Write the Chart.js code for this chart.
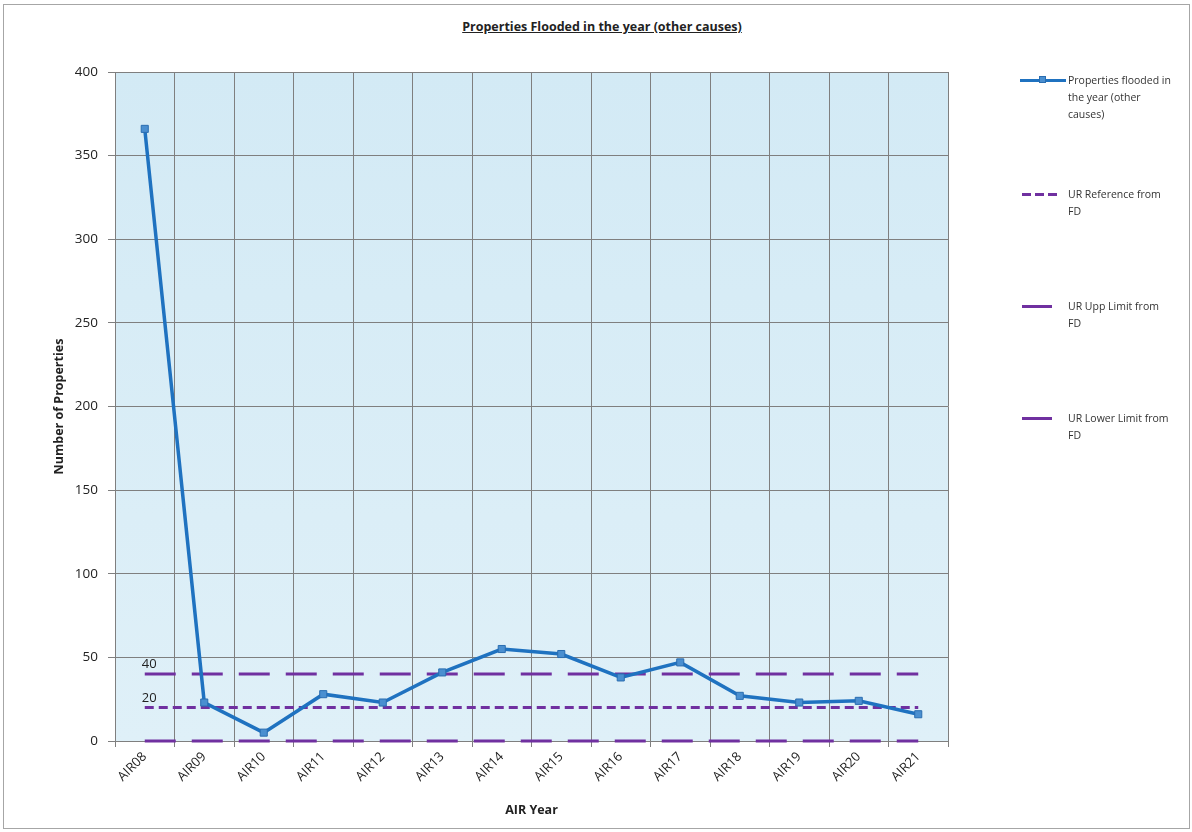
<!DOCTYPE html>
<html>
<head>
<meta charset="utf-8">
<script src="https://cdn.jsdelivr.net/npm/chart.js@4.4.1/dist/chart.umd.min.js"></script>
<style>
  body { margin: 0; background: #fff; font-family: "Open Sans", "Noto Sans", sans-serif; }
  #wrap { position: relative; width: 1192px; height: 832px; }
  #frame { position: absolute; left: 3px; top: 4px; width: 1187px; height: 825px; border: 1px solid #a6a6a6; box-sizing: border-box; }
  #title { position: absolute; left: 0; top: 18px; width: 1204px; text-align: center; font-size: 12.5px; font-weight: bold; text-decoration: underline; color: #222; }
  canvas { position: absolute; left: 0; top: 0; }
  .item { position: absolute; left: 1020px; width: 170px; }
  .swatch { position: absolute; left: 2px; top: 7px; width: 36px; height: 3px; }
  .txt { position: absolute; left: 48px; top: 0; width: 104px; font-size: 10.5px; line-height: 17px; color: #333; }
</style>
</head>
<body>
<div id="wrap">
  <div id="frame"></div>
  <div id="title">Properties Flooded in the year (other causes)</div>
  <canvas id="chart" width="1192" height="832"></canvas>
  <div id="legend"></div>
</div>
<script>
// ----- DATA -----
const years = ['AIR08', 'AIR09', 'AIR10', 'AIR11', 'AIR12', 'AIR13', 'AIR14',
               'AIR15', 'AIR16', 'AIR17', 'AIR18', 'AIR19', 'AIR20', 'AIR21'];
const flooded = [366, 23, 5, 28, 23, 41, 55, 52, 38, 47, 27, 23, 24, 16];
const urReference = [20, 20, 20, 20, 20, 20, 20, 20, 20, 20, 20, 20, 20, 20];
const urUpper = [40, 40, 40, 40, 40, 40, 40, 40, 40, 40, 40, 40, 40, 40];
const urLower = [0, 0, 0, 0, 0, 0, 0, 0, 0, 0, 0, 0, 0, 0];
const yTicks = [0, 50, 100, 150, 200, 250, 300, 350, 400];

const blue = '#1f72c0';
const purple = '#7030a0';

// light blue plot area
const plotBg = {
    id: 'plotBg',
    beforeDraw(chart) {
        const { ctx, chartArea: a } = chart;
        const g = ctx.createLinearGradient(0, a.top, 0, a.bottom);
        g.addColorStop(0, '#d3eaf5');
        g.addColorStop(1, '#dff0f8');
        ctx.save();
        ctx.fillStyle = g;
        ctx.fillRect(a.left, a.top, a.right - a.left, a.bottom - a.top);
        ctx.restore();
    }
};

// "40" / "20" labels on first point of the limit lines
const firstLabels = {
    id: 'firstLabels',
    afterDatasetsDraw(chart) {
        const { ctx } = chart;
        ctx.save();
        ctx.font = '13px "Open Sans", sans-serif';
        ctx.fillStyle = '#222';
        ctx.textAlign = 'left';
        ctx.textBaseline = 'bottom';
        [1, 2].forEach(i => {
            const pt = chart.getDatasetMeta(i).data[0];
            const v = chart.data.datasets[i].data[0];
            ctx.fillText(String(v), pt.x - 3, pt.y - 3);
        });
        ctx.restore();
    }
};

new Chart(document.getElementById('chart').getContext('2d'), {
    type: 'line',
    data: {
        labels: years,
        datasets: [
            {
                label: 'Properties flooded in the year (other causes)',
                data: flooded,
                borderColor: blue,
                backgroundColor: '#4a8fd0',
                borderWidth: 3.5,
                pointStyle: 'rect',
                pointRadius: 5,
                pointBorderColor: '#2a6db0',
                pointBorderWidth: 1,
                tension: 0
            },
            {
                label: 'UR Upp Limit from FD',
                data: urUpper,
                borderColor: purple,
                borderWidth: 3,
                borderDash: [31, 16],
                pointRadius: 0
            },
            {
                label: 'UR Reference from FD',
                data: urReference,
                borderColor: purple,
                borderWidth: 3,
                borderDash: [9, 5],
                pointRadius: 0
            },
            {
                label: 'UR Lower Limit from FD',
                data: urLower,
                borderColor: purple,
                borderWidth: 3,
                borderDash: [31, 16],
                pointRadius: 0,
                clip: false
            }
        ]
    },
    options: {
        responsive: false,
        animation: false,
        layout: { padding: { top: 72, right: 244, bottom: 0, left: 0 } },
        plugins: { legend: { display: false }, tooltip: { enabled: false } },
        scales: {
            x: {
                offset: true,
                grid: { offset: true, color: '#7f7f7f', tickLength: 6, drawOnChartArea: true },
                border: { color: '#7f7f7f' },
                ticks: {
                    minRotation: 45, maxRotation: 45, padding: 2,
                    color: '#222',
                    font: { family: '"Open Sans", sans-serif', size: 13 }
                },
                title: {
                    display: true, text: 'AIR Year', color: '#222',
                    font: { family: '"Open Sans", sans-serif', size: 12.5, weight: 'bold' },
                    padding: { top: 0, bottom: 14 }
                },
                afterFit(scale) { scale.height = 91; }
            },
            y: {
                min: 0, max: 400,
                afterBuildTicks(scale) { scale.ticks = yTicks.map(v => ({ value: v })); },
                grid: { color: '#7f7f7f', tickLength: 7 },
                border: { color: '#7f7f7f' },
                ticks: {
                    padding: 10, color: '#222',
                    font: { family: '"Open Sans", sans-serif', size: 13.5 }
                },
                title: {
                    display: true, text: 'Number of Properties', color: '#222',
                    font: { family: '"Open Sans", sans-serif', size: 12.5, weight: 'bold' },
                    padding: { top: 52, bottom: 0 }
                },
                afterFit(scale) { scale.width = 115; }
            }
        }
    },
    plugins: [plotBg, firstLabels]
});

// ----- LEGEND (HTML, right side) -----
const legendItems = [
    { text: 'Properties flooded in the year (other causes)', top: 72, kind: 'marker' },
    { text: 'UR Reference from FD', top: 186, kind: 'short' },
    { text: 'UR Upp Limit from FD', top: 298, kind: 'solid' },
    { text: 'UR Lower Limit from FD', top: 410, kind: 'solid' }
];
const legendEl = document.getElementById('legend');
legendItems.forEach(it => {
    const d = document.createElement('div');
    d.className = 'item';
    d.style.top = it.top + 'px';
    let sw = '';
    if (it.kind === 'marker') {
        sw = '<div class="swatch" style="background:' + blue + ';width:46px;left:0"></div>' +
             '<div style="position:absolute;left:19px;top:4px;width:7px;height:7px;background:#4a8fd0;border:1px solid #2a6db0;box-sizing:border-box"></div>';
    } else if (it.kind === 'short') {
        sw = '<div class="swatch" style="background:repeating-linear-gradient(90deg,' + purple + ' 0 9px,transparent 9px 13px)"></div>';
    } else {
        sw = '<div class="swatch" style="background:' + purple + ';width:30px"></div>';
    }
    d.innerHTML = sw + '<div class="txt">' + it.text + '</div>';
    legendEl.appendChild(d);
});
</script>
</body>
</html>
